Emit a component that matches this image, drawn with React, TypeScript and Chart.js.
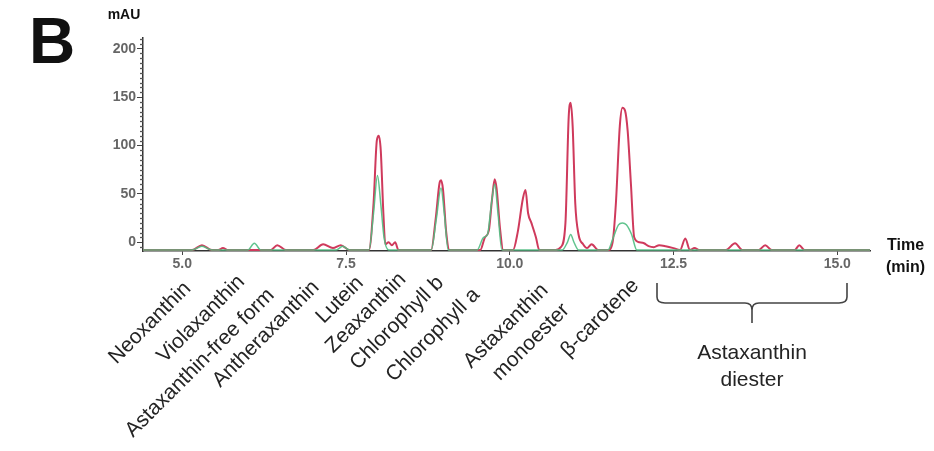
import React, { useEffect, useRef } from "react";
import { Chart, registerables } from "chart.js";
Chart.register(...registerables);

// Retention time (min) and absorbance (mAU)
const redTimes = [4.4, 5.15, 5.3, 5.45, 5.55, 5.62, 5.7, 6.35, 6.45, 6.58, 7.0, 7.15, 7.3, 7.42, 7.55, 7.85, 7.92, 7.97, 8.0, 8.03, 8.07, 8.1, 8.15, 8.2, 8.25, 8.3, 8.8, 8.87, 8.93, 8.95, 8.98, 9.03, 9.08, 9.55, 9.62, 9.68, 9.73, 9.77, 9.8, 9.85, 9.9, 10.05, 10.12, 10.2, 10.24, 10.28, 10.33, 10.4, 10.45, 10.7, 10.78, 10.85, 10.9, 10.93, 10.96, 11.0, 11.05, 11.12, 11.18, 11.25, 11.35, 11.5, 11.57, 11.62, 11.68, 11.72, 11.76, 11.8, 11.85, 11.9, 11.98, 12.05, 12.12, 12.2, 12.28, 12.38, 12.5, 12.6, 12.68, 12.75, 12.82, 12.9, 13.3, 13.44, 13.55, 13.8, 13.9, 14.0, 14.35, 14.42, 14.5, 15.5];
const redValues = [-8, -8, -3, -8, -8, -6, -8, -8, -3, -8, -8, -2, -6, -3, -8, -8, 40, 105, 110, 95, 30, -2, 0, -3, 0, -8, -8, 25, 62, 64, 55, 10, -8, -8, 5, 12, 45, 65, 55, 15, -8, -8, 10, 45, 54, 30, 20, 5, -8, -8, -5, 20, 130, 144, 120, 40, 8, -2, -6, -2, -8, -8, 0, 40, 120, 139, 136, 115, 60, 5, 0, -1, -4, -5, -3, -4, -6, -8, 4, -8, -6, -8, -8, -1, -8, -8, -3, -8, -8, -3, -8, -8];
const greenTimes = [4.4, 5.15, 5.3, 5.45, 6.0, 6.1, 6.2, 7.35, 7.45, 7.55, 7.85, 7.92, 7.98, 8.03, 8.08, 8.15, 8.8, 8.88, 8.95, 9.0, 9.06, 9.5, 9.6, 9.66, 9.72, 9.77, 9.82, 9.88, 10.8, 10.88, 10.93, 10.98, 11.05, 11.5, 11.58, 11.66, 11.72, 11.78, 11.86, 11.94, 15.5];
const greenValues = [-8, -8, -4, -8, -8, -1, -8, -8, -4, -8, -8, 30, 69, 40, 5, -8, -8, 25, 56, 30, -8, -8, 5, 8, 40, 60, 30, -8, -8, 0, 8, 0, -8, -8, 5, 18, 20, 18, 8, -8, -8];

const xTicks = [5, 7.5, 10, 12.5, 15];
const yTicks = [0, 50, 100, 150, 200];

const compoundLabels = ["Neoxanthin", "Violaxanthin", "Astaxanthin-free form", "Antheraxanthin", "Lutein", "Zeaxanthin", "Chlorophyll b", "Chlorophyll a", "Astaxanthin", "monoester", "β-carotene"];
// label centres (canvas px)
const labelPos = [[150, 323], [201, 319], [200, 363], [266, 334], [340, 300], [366, 313], [397, 323], [433, 335], [506, 326], [531, 342], [600, 318]];

const FONT = '"Liberation Sans", Arial, Helvetica, sans-serif';

export default function App() {
  const ref = useRef<HTMLCanvasElement>(null);
  useEffect(() => {
    if (!ref.current) return;
    const annot = {
      id: "annot",
      afterDraw(chart: any) {
        const ctx = chart.ctx;
        const y = chart.scales.y;
        const area = chart.chartArea;
        ctx.save();
        // minor ticks
        ctx.strokeStyle = "#555";
        ctx.lineWidth = 1.3;
        for (let v = -5; v <= 210; v += 5) {
          if (v % 50 === 0) continue;
          const py = Math.round(y.getPixelForValue(v)) + 0.5;
          ctx.beginPath();
          ctx.moveTo(area.left - 3, py);
          ctx.lineTo(area.left, py);
          ctx.stroke();
        }
        // B
        ctx.fillStyle = "#111";
        ctx.font = `bold 64px ${FONT}`;
        ctx.textAlign = "center";
        ctx.textBaseline = "alphabetic";
        ctx.fillText("B", 52, 63);
        ctx.font = `bold 14px ${FONT}`;
        ctx.fillText("mAU", 124, 19);
        ctx.textAlign = "left";
        ctx.font = `bold 16px ${FONT}`;
        ctx.fillText("Time", 887, 250);
        ctx.fillText("(min)", 886, 272);
        // compound labels
        ctx.fillStyle = "#242424";
        ctx.font = `21px ${FONT}`;
        ctx.textAlign = "center";
        ctx.textBaseline = "middle";
        compoundLabels.forEach((t, i) => {
          ctx.save();
          ctx.translate(labelPos[i][0], labelPos[i][1]);
          ctx.rotate(-Math.PI / 4);
          ctx.fillText(t, 0, 0);
          ctx.restore();
        });
        // brace
        ctx.strokeStyle = "#444";
        ctx.lineWidth = 1.6;
        ctx.beginPath();
        ctx.moveTo(657, 283);
        ctx.lineTo(657, 297);
        ctx.quadraticCurveTo(657, 303, 665, 303);
        ctx.lineTo(745, 303);
        ctx.quadraticCurveTo(752, 303, 752, 310);
        ctx.lineTo(752, 323);
        ctx.moveTo(752, 310);
        ctx.quadraticCurveTo(752, 303, 759, 303);
        ctx.lineTo(839, 303);
        ctx.quadraticCurveTo(847, 303, 847, 297);
        ctx.lineTo(847, 283);
        ctx.stroke();
        ctx.fillText("Astaxanthin", 752, 353);
        ctx.fillText("diester", 752, 380);
        ctx.restore();
      },
    };
    const chart = new Chart(ref.current, {
      type: "line",
      data: {
        datasets: [
          {
            data: greenTimes.map((t, i) => ({ x: t, y: greenValues[i] })),
            borderColor: "rgba(80,190,130,0.9)",
            borderWidth: 1.5,
            pointRadius: 0,
            cubicInterpolationMode: "monotone",
            order: 1,
          },
          {
            data: redTimes.map((t, i) => ({ x: t, y: redValues[i] })),
            borderColor: "#cf3a5c",
            borderWidth: 2,
            pointRadius: 0,
            cubicInterpolationMode: "monotone",
            order: 2,
          },
        ],
      },
      plugins: [annot],
      options: {
        animation: false,
        responsive: false,
        layout: { padding: { left: 0, top: 38, right: 64, bottom: 0 } },
        plugins: { legend: { display: false }, tooltip: { enabled: false } },
        scales: {
          x: {
            type: "linear",
            min: 4.4,
            max: 15.5,
            afterFit: (s: any) => { s.height = 200; },
            afterBuildTicks: (s: any) => { s.ticks = xTicks.map((v) => ({ value: v })); },
            ticks: {
              autoSkip: false,
              maxRotation: 0,
              color: "#666",
              padding: 1,
              font: { family: FONT, size: 14, weight: "bold" },
              callback: (v: any) => Number(v).toFixed(1),
            },
            grid: { drawOnChartArea: false, tickLength: 4, color: "#444" },
            border: { color: "#333", width: 1.5 },
          },
          y: {
            min: -9,
            max: 211,
            afterFit: (s: any) => { s.width = 143; },
            afterBuildTicks: (s: any) => { s.ticks = yTicks.map((v) => ({ value: v })); },
            ticks: {
              color: "#666",
              padding: 1,
              font: { family: FONT, size: 14, weight: "bold" },
            },
            grid: { drawOnChartArea: false, tickLength: 6, color: "#444" },
            border: { color: "#333", width: 1.5 },
          },
        },
      },
    });
    return () => chart.destroy();
  }, []);
  return (
    <div style={{ position: "fixed", left: 0, top: 0, width: 934, height: 451, background: "#fff" }}>
      <canvas ref={ref} width={934} height={451} />
    </div>
  );
}
